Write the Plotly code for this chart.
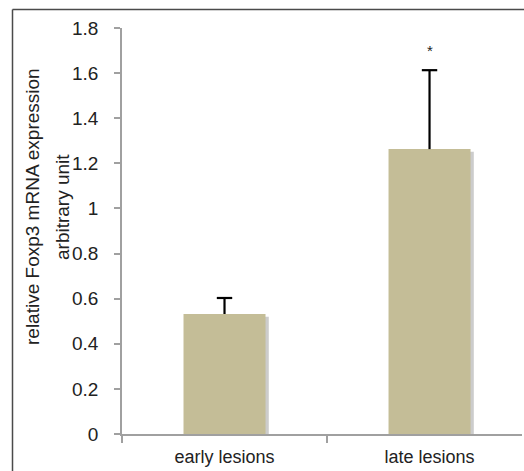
import plotly.graph_objects as go

categories = ["early lesions", "late lesions"]
values = [0.532, 1.263]
errors_up = [0.071, 0.350]
significance = ["", "*"]
star_y = [None, 1.70]
y_ticks = [0, 0.2, 0.4, 0.6, 0.8, 1, 1.2, 1.4, 1.6, 1.8]
y_title_1 = "relative Foxp3 mRNA expression"
y_title_2 = "arbitrary unit"

W, H = 524, 471
L, R, T, B = 122, 2, 28, 37
pw, ph = W - L - R, H - T - B

def px_to_paper_x(px):
    return (px - L) / pw

def px_to_paper_y(py):
    return (H - B - py) / ph

font = "Liberation Sans, Arial, sans-serif"
bar_color = "#c4bd97"
axis_color = "#a0a0a0"

fig = go.Figure()
# soft drop shadow behind the bars
fig.add_trace(go.Bar(
    x=categories, y=values, base=[-0.012] * len(values),
    width=0.4, offset=-0.2 + 0.016,
    marker=dict(color="rgba(110,110,110,0.35)", line=dict(width=0)),
    hoverinfo="skip", showlegend=False,
))
fig.add_trace(go.Bar(
    x=categories, y=values, width=0.4,
    marker=dict(color=bar_color, line=dict(width=0)),
    showlegend=False,
))
# upper-only error bars: stem drawn down from the cap to the bar top, cap as a marker
tops = [v + e for v, e in zip(values, errors_up)]
fig.add_trace(go.Scatter(
    x=categories, y=tops, mode="markers",
    marker=dict(symbol="line-ew-open", size=11, color="black",
                line=dict(width=2.2, color="black")),
    error_y=dict(type="data", symmetric=False, array=[0] * len(values),
                 arrayminus=errors_up, color="black", thickness=2.2, width=0),
    showlegend=False, hoverinfo="skip", cliponaxis=False,
))

annotations = []
for c, s, sy in zip(categories, significance, star_y):
    if s:
        annotations.append(dict(x=c, y=sy, xref="x", yref="y", text=s,
                                showarrow=False, font=dict(size=15, color="#222", family=font)))
annotations.append(dict(x=px_to_paper_x(33), y=px_to_paper_y(207), xref="paper", yref="paper",
                        text=y_title_1, textangle=-90, showarrow=False,
                        xanchor="center", yanchor="middle",
                        font=dict(size=19, color="#222", family=font)))
annotations.append(dict(x=px_to_paper_x(63), y=px_to_paper_y(207), xref="paper", yref="paper",
                        text=y_title_2, textangle=-90, showarrow=False,
                        xanchor="center", yanchor="middle",
                        font=dict(size=19, color="#222", family=font)))

shapes = [
    dict(type="line", xref="paper", yref="paper",
         x0=px_to_paper_x(12.5), x1=px_to_paper_x(12.5),
         y0=px_to_paper_y(9.5), y1=px_to_paper_y(490),
         line=dict(color="#4a4a4a", width=1.5)),
    dict(type="line", xref="paper", yref="paper",
         x0=px_to_paper_x(12.5), x1=px_to_paper_x(560),
         y0=px_to_paper_y(9.5), y1=px_to_paper_y(9.5),
         line=dict(color="#4a4a4a", width=1.5)),
]

fig.update_layout(
    width=W, height=H,
    margin=dict(l=L, r=R, t=T, b=B, pad=0),
    paper_bgcolor="white", plot_bgcolor="white",
    barmode="overlay",
    font=dict(family=font, size=18, color="#222"),
    annotations=annotations, shapes=shapes,
    xaxis=dict(type="category", range=[-0.5, 1.451], tickson="boundaries",
               ticks="outside", ticklen=7, tickcolor=axis_color, tickwidth=1.5,
               showline=True, linecolor=axis_color, linewidth=1.5,
               showgrid=False, zeroline=False, ticklabelstandoff=6,
               tickfont=dict(size=18, color="#222")),
    yaxis=dict(range=[0, 1.8], tickvals=y_ticks,
               ticktext=[f"{v:g}" for v in y_ticks],
               ticks="outside", ticklen=6, tickcolor=axis_color, tickwidth=1.5,
               showline=True, linecolor=axis_color, linewidth=1.5,
               showgrid=False, zeroline=False, ticklabelstandoff=12,
               tickfont=dict(size=19, color="#222")),
)

fig.write_html("out.html", config={"displayModeBar": False},
               post_script="document.body.style.margin='0';document.body.style.overflow='hidden';")
